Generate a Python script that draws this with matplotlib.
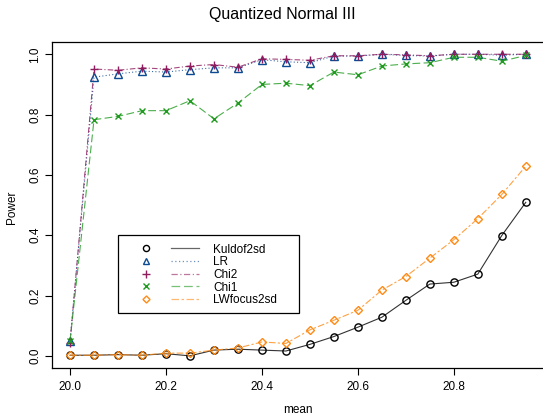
import matplotlib
matplotlib.use('Agg')
import matplotlib.pyplot as plt
from matplotlib.lines import Line2D
from matplotlib.patches import Rectangle
from matplotlib.legend_handler import HandlerTuple

plt.rcParams['font.family'] = ['Liberation Sans', 'DejaVu Sans']

MEAN = [20.0, 20.05, 20.1, 20.15, 20.2, 20.25, 20.3, 20.35, 20.4, 20.45,
        20.5, 20.55, 20.6, 20.65, 20.7, 20.75, 20.8, 20.85, 20.9, 20.95]

KULDOF2SD = [0.002, 0.002, 0.004, 0.002, 0.007, 0.0, 0.019, 0.022, 0.019, 0.016,
             0.038, 0.064, 0.095, 0.128, 0.184, 0.238, 0.244, 0.271, 0.399, 0.509]
LR = [0.049, 0.924, 0.935, 0.944, 0.941, 0.949, 0.955, 0.955, 0.982, 0.975,
      0.972, 0.994, 0.994, 1.0, 0.996, 0.994, 1.0, 1.0, 0.997, 1.0]
CHI2 = [0.042, 0.951, 0.947, 0.955, 0.951, 0.961, 0.966, 0.957, 0.985, 0.983,
        0.98, 0.995, 0.995, 1.0, 0.998, 0.995, 1.0, 1.0, 1.0, 1.0]
CHI1 = [0.049, 0.783, 0.794, 0.813, 0.813, 0.846, 0.786, 0.838, 0.9, 0.904,
        0.896, 0.941, 0.932, 0.961, 0.968, 0.972, 0.99, 0.99, 0.977, 0.996]
LWFOCUS2SD = [0.002, 0.002, 0.004, 0.002, 0.009, 0.009, 0.019, 0.026, 0.046, 0.041,
              0.086, 0.118, 0.151, 0.218, 0.263, 0.324, 0.385, 0.455, 0.535, 0.629]

NAMES = ['Kuldof2sd', 'LR', 'Chi2', 'Chi1', 'LWfocus2sd']
SERIES = [KULDOF2SD, LR, CHI2, CHI1, LWFOCUS2SD]
COLORS = ['black', '#0c4a92', '#8e1c5e', '#1f9a1f', '#ff8a14']
MARKERS = ['o', '^', '+', 'x', 'D']
STYLES = ['-', (0, (1, 2)), (0, (5, 2, 1, 2)), (0, (7, 3)), (0, (6, 2, 2, 2))]
MSIZES = [5.2, 5.2, 6.0, 5.0, 4.2]

W, H = 543, 415
fig = plt.figure(figsize=(W / 100, H / 100), dpi=100)
ax = fig.add_axes([51.8 / W, 1 - 367.9 / H, (544 - 51.8) / W, (367.9 - 42.2) / H])

handles = []
for y, c, m, ls, ms, name in zip(SERIES, COLORS, MARKERS, STYLES, MSIZES, NAMES):
  filled = m in ('+', 'x')
  ax.plot(MEAN, y, color=c, linestyle=ls, linewidth=0.8, alpha=0.8)
  ax.plot(MEAN, y, linestyle='none', marker=m, markersize=ms,
          markerfacecolor=c if filled else 'none', markeredgecolor=c,
          markeredgewidth=1.0)
  mk = Line2D([], [], linestyle='none', marker=m, markersize=ms * 0.85,
              markerfacecolor=c if filled else 'none', markeredgecolor=c,
              markeredgewidth=1.0)
  ln = Line2D([], [], color=c, linestyle=ls, linewidth=0.9, alpha=0.6)
  handles.append((mk, ln))

ax.set_xlim(19.962, 20.988)
ax.set_ylim(-0.04, 1.04)
ax.set_xticks([20.0, 20.2, 20.4, 20.6, 20.8])
ax.set_xticklabels(['20.0', '20.2', '20.4', '20.6', '20.8'])
ax.set_yticks([0.0, 0.2, 0.4, 0.6, 0.8, 1.0])
ax.set_yticklabels(['0.0', '0.2', '0.4', '0.6', '0.8', '1.0'], rotation=90, va='center')
ax.tick_params(axis='both', direction='out', length=5, width=0.8, labelsize=8.5)
ax.tick_params(axis='x', pad=4.5)
ax.tick_params(axis='y', pad=2.5)
for s in ax.spines.values():
  s.set_linewidth(0.9)

# legend entries without frame; frame drawn separately like R's legend box
ax.legend(handles, NAMES, handler_map={tuple: HandlerTuple(ndivide=2, pad=0.93)},
          loc='upper left', bbox_to_anchor=(132 / W, 1 - 243.5 / H),
          bbox_transform=fig.transFigure, borderaxespad=0, borderpad=0,
          handlelength=5.7, handletextpad=1.2, labelspacing=0.06,
          frameon=False, fontsize=8.5)
fig.patches.append(Rectangle((117.7 / W, 1 - 313 / H), (299 - 117.7) / W, (313 - 235) / H,
                             transform=fig.transFigure, fill=True, facecolor='none',
                             edgecolor='black', linewidth=0.9, zorder=5))

fig.text(282.5 / W, 1 - 18.5 / H, 'Quantized Normal III', ha='center', va='baseline', fontsize=11.5)
fig.text(298 / W, 1 - 413 / H, 'mean', ha='center', va='baseline', fontsize=8.5)
fig.text(12.5 / W, 1 - 207 / H, 'Power', ha='center', va='center', rotation=90, fontsize=8.5)

fig.savefig('out.png', dpi=100)
